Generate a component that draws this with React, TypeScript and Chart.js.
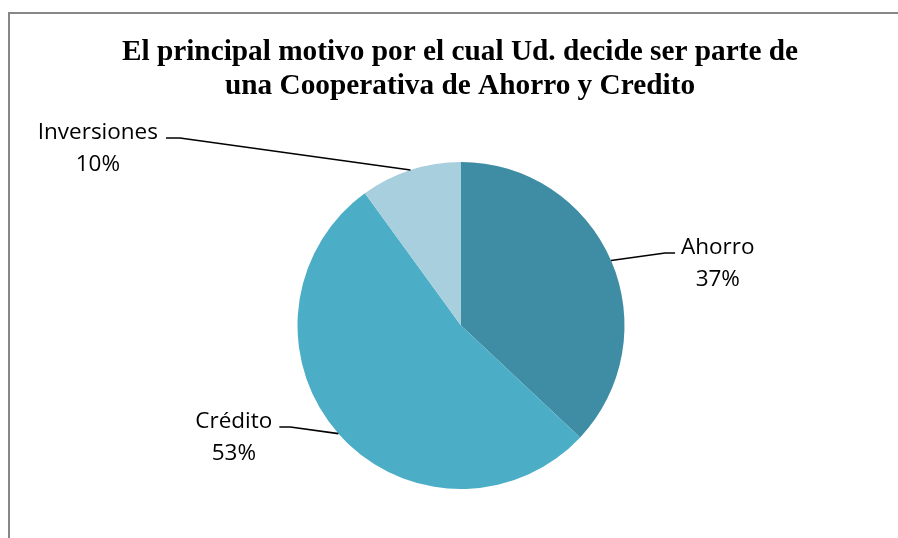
import { useEffect, useRef } from "react";
import { Chart, registerables } from "chart.js";

Chart.register(...registerables);

const TITLE_LINES = [
  "El principal motivo por el cual Ud. decide ser parte de",
  "una Cooperativa de Ahorro y Credito",
];
const CATEGORIES = ["Ahorro", "Crédito", "Inversiones"];
const VALUES = [37, 53, 10];
const PERCENT_LABELS = ["37%", "53%", "10%"];
const COLORS = ["#3E8DA5", "#4BADC6", "#A8CFDD"];

// leader-line styling: elbow offset from slice edge midpoint, horizontal run length
const LEADER_STYLE = [
  { elbow: [54, -7.5], run: 10, gap: 6 },
  { elbow: [-48, -6.6], run: -11, gap: 7 },
  { elbow: [-230.5, -32], run: -14, gap: 8 },
];

const LABEL_FONT = "22.5px 'Open Sans'";
const TITLE_FONT = "bold 29.3px 'Liberation Serif'";

const decorPlugin = {
  id: "decor",
  beforeDraw(chart: any) {
    const ctx = chart.ctx;
    ctx.save();
    ctx.strokeStyle = "#878787";
    ctx.lineWidth = 2;
    ctx.strokeRect(9, 13, chart.width + 20, chart.height + 20);
    ctx.restore();
  },
  afterDraw(chart: any) {
    const ctx = chart.ctx;
    ctx.save();
    // title
    ctx.fillStyle = "#000";
    ctx.font = TITLE_FONT;
    ctx.textAlign = "center";
    ctx.textBaseline = "alphabetic";
    const cx = (chart.chartArea.left + chart.chartArea.right) / 2;
    TITLE_LINES.forEach((t, i) => ctx.fillText(t, cx - 1, 60 + i * 34));

    // labels with leader lines
    const meta = chart.getDatasetMeta(0);
    meta.data.forEach((arc: any, i: number) => {
      const { x, y, startAngle, endAngle, outerRadius } = arc.getProps(
        ["x", "y", "startAngle", "endAngle", "outerRadius"],
        true
      );
      const mid = (startAngle + endAngle) / 2;
      const ax = x + Math.cos(mid) * outerRadius;
      const ay = y + Math.sin(mid) * outerRadius;
      const st = LEADER_STYLE[i];
      const ex = ax + st.elbow[0];
      const ey = ay + st.elbow[1];
      const rx = ex + st.run;
      ctx.strokeStyle = "#000";
      ctx.lineWidth = 1.6;
      ctx.beginPath();
      ctx.moveTo(ax, ay);
      ctx.lineTo(ex, ey);
      ctx.lineTo(rx, ey);
      ctx.stroke();

      ctx.font = LABEL_FONT;
      ctx.fillStyle = "#000";
      ctx.textAlign = "center";
      const lines = [CATEGORIES[i], PERCENT_LABELS[i]];
      const w = Math.max(...lines.map((l) => ctx.measureText(l).width));
      const dir = st.run >= 0 ? 1 : -1;
      const tx = rx + dir * (st.gap + w / 2);
      ctx.fillText(lines[0], tx, ey + 0.5);
      ctx.fillText(lines[1], tx, ey + 33);
    });
    ctx.restore();
  },
};

export default function App() {
  const ref = useRef<HTMLCanvasElement | null>(null);
  useEffect(() => {
    if (!ref.current) return;
    const chart = new Chart(ref.current, {
      type: "pie",
      data: {
        labels: CATEGORIES,
        datasets: [
          {
            data: VALUES,
            backgroundColor: COLORS,
            borderWidth: 0,
          },
        ],
      },
      options: {
        responsive: false,
        animation: false,
        layout: { padding: { left: 297.5, right: 273.5, top: 162, bottom: 49 } },
        plugins: {
          legend: { display: false },
          title: { display: false },
          tooltip: { enabled: false },
        },
      },
      plugins: [decorPlugin],
    });
    return () => chart.destroy();
  }, []);
  return (
    <div style={{ position: "absolute", left: 0, top: 0, width: 898, height: 538, background: "#fff" }}>
      <canvas ref={ref} width={898} height={538} />
    </div>
  );
}
